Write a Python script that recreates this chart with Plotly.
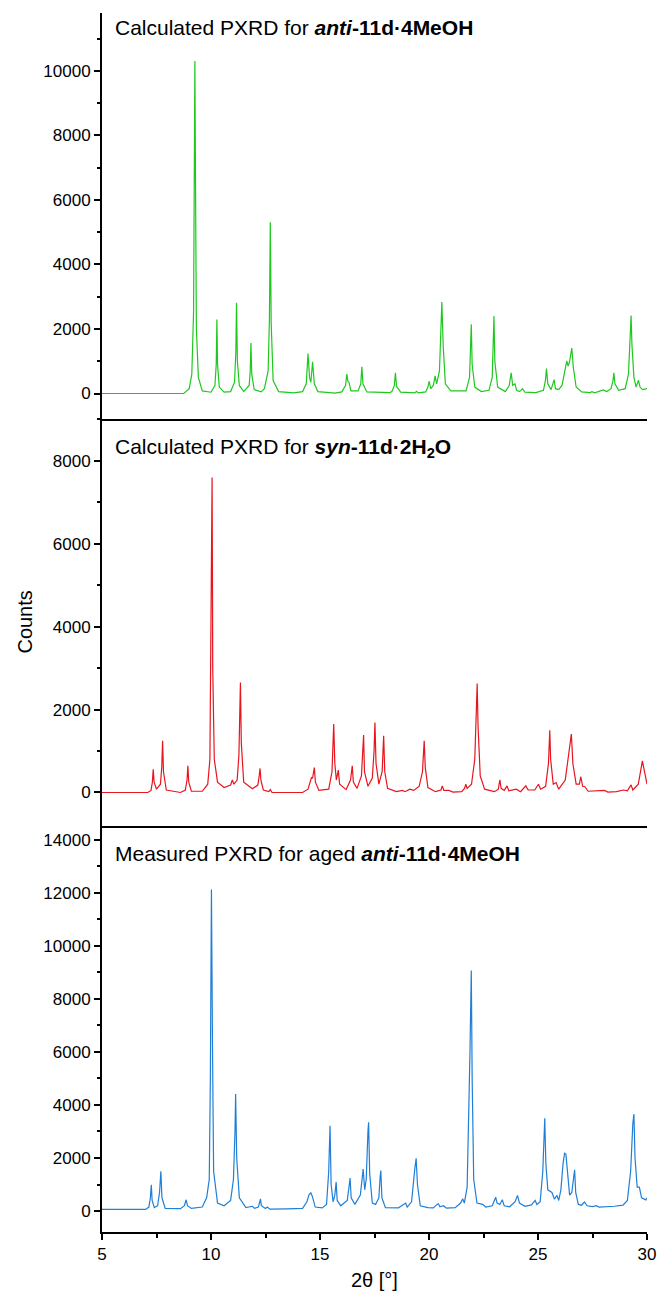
import plotly.graph_objects as go
from plotly.subplots import make_subplots

# ---------------- data ----------------
green_x = [
    5.0, 8.75,
    9.0, 9.12, 9.2, 9.24, 9.26, 9.29, 9.33, 9.42, 9.6,
    10.0, 10.18, 10.24, 10.27, 10.3, 10.38, 10.6,
    10.9, 11.08, 11.14, 11.17, 11.21, 11.3,
    11.5, 11.75, 11.8, 11.83, 11.87, 11.98, 12.3,
    12.45, 12.62, 12.68, 12.72, 12.76, 12.85, 13.1, 13.8,
    14.2, 14.37, 14.45, 14.52, 14.58, 14.66, 14.74, 14.9, 15.7,
    16.0, 16.17, 16.23, 16.28, 16.33, 16.42,
    16.75, 16.87, 16.92, 16.97, 17.15, 18.2,
    18.3, 18.41, 18.46, 18.51, 18.7, 19.35, 19.43, 19.5, 19.85,
    19.95, 20.01, 20.08, 20.2, 20.28, 20.35, 20.48, 20.55, 20.59, 20.65, 20.75, 21.0,
    21.7, 21.86, 21.91, 21.94, 21.98, 22.1, 22.4,
    22.75, 22.9, 22.95, 22.98, 23.02, 23.15, 23.5,
    23.68, 23.77, 23.84, 23.94, 24.02, 24.15, 24.29, 24.4, 24.9,
    25.25, 25.34, 25.39, 25.45, 25.6, 25.74, 25.8, 25.95,
    26.1, 26.25, 26.32, 26.38, 26.45, 26.55, 26.62, 26.75, 27.0,
    27.4, 27.47, 27.6, 27.9, 27.99, 28.15,
    28.35, 28.44, 28.48, 28.53, 28.7, 29.0,
    29.15, 29.23, 29.27, 29.31, 29.4, 29.5,
    29.56, 29.61, 29.68, 29.8, 30.0,
]
green_y = [
    0, 0,
    150, 600, 2500, 7000, 10300, 6500, 2000, 500, 80,
    40, 250, 900, 2290, 900, 200, 40,
    60, 350, 1300, 2815, 1000, 250,
    60, 250, 700, 1567, 600, 120, 50,
    150, 700, 2300, 5310, 2200, 400, 60, 20,
    60, 300, 1237, 500, 350, 980, 300, 60, 10,
    50, 250, 600, 380, 350, 80,
    80, 300, 825, 300, 50, 30,
    60, 250, 640, 220, 40, 20, 70, 20, 50,
    200, 380, 150, 250, 550, 300, 700, 2000, 2835, 1500, 300, 80,
    80, 500, 1500, 2145, 900, 200, 60,
    100, 500, 1700, 2400, 1000, 200, 60,
    250, 640, 250, 300, 100, 60, 150, 40, 30,
    100, 400, 770, 300, 120, 430, 150, 120,
    250, 700, 1010, 850, 1000, 1410, 800, 200, 50,
    30, 60, 20, 80, 110, 60,
    150, 400, 640, 300, 100, 150,
    600, 1800, 2420, 1500, 500, 200,
    300, 410, 200, 120, 150,
]

red_x = [
    5.0, 7.1, 7.25, 7.31, 7.35, 7.39, 7.5,
    7.68, 7.74, 7.78, 7.82, 7.95, 8.6,
    8.82, 8.9, 8.94, 8.98, 9.1, 9.6,
    9.85, 9.95, 10.0, 10.05, 10.08, 10.15, 10.3, 10.6,
    10.9, 10.98, 11.05, 11.2, 11.28, 11.35, 11.39, 11.5, 11.9,
    12.15, 12.21, 12.25, 12.29, 12.4, 12.65, 12.72, 12.8, 14.2,
    14.45, 14.58, 14.61, 14.66, 14.74, 14.79, 14.95,
    15.4, 15.55, 15.63, 15.68, 15.75, 15.84, 15.9, 16.2,
    16.4, 16.48, 16.53, 16.7, 16.9, 16.96, 17.0, 17.04, 17.2,
    17.4, 17.48, 17.52, 17.57, 17.7, 17.85, 17.92, 17.97, 18.1,
    18.5, 18.79, 18.9, 19.12, 19.3, 19.55, 19.7, 19.78, 19.83, 19.95,
    20.3, 20.55, 20.61, 20.68, 20.91, 21.1, 21.5, 21.63, 21.69, 21.75,
    21.95, 22.1, 22.17, 22.21, 22.25, 22.35, 22.55, 22.75, 23.0,
    23.18, 23.25, 23.31, 23.45, 23.58, 23.66, 24.0, 24.2, 24.44, 24.55,
    24.85, 25.02, 25.12, 25.35, 25.48, 25.54, 25.58, 25.7, 25.83, 25.95,
    26.25, 26.4, 26.48, 26.53, 26.6, 26.75, 26.9, 26.96, 27.05, 27.15, 27.3,
    28.05, 28.2, 28.6, 28.92, 29.1, 29.27, 29.35, 29.6, 29.72, 29.79, 29.85, 30.0,
]
red_y = [
    0, 0, 50, 250, 560, 250, 80,
    200, 600, 1245, 500, 60, 0,
    60, 300, 645, 250, 30, 30,
    200, 800, 3500, 7600, 3000, 800, 250, 120,
    180, 305, 200, 300, 900, 2650, 1200, 250, 90,
    180, 400, 580, 300, 60, 20, 70, 0, 0,
    80, 300, 360, 350, 600, 250, 50,
    80, 500, 1650, 700, 300, 540, 200, 70,
    300, 645, 250, 100, 400, 900, 1385, 500, 150,
    350, 1000, 1690, 700, 200, 500, 1370, 500, 100,
    20, 50, 20, 80, 50, 150, 500, 1245, 600, 120,
    20, 60, 160, 50, 50, 10, 20, 100, 200, 100,
    200, 800, 1800, 2630, 1600, 400, 80, 60, 20,
    80, 305, 100, 50, 160, 40, 80, 20, 160, 60,
    60, 200, 80, 150, 700, 1500, 800, 200, 240, 80,
    300, 900, 1300, 1410, 700, 200, 200, 380, 150, 140, 30,
    50, 10, 20, 60, 40, 185, 60, 200, 600, 765, 600, 200,
]

blue_x = [
    5.0, 7.0, 7.15, 7.22, 7.26, 7.3, 7.4,
    7.55, 7.64, 7.7, 7.75, 7.9, 8.6,
    8.78, 8.86, 8.92, 9.1, 9.6,
    9.8, 9.92, 9.97, 10.02, 10.07, 10.12, 10.3, 10.6,
    10.9, 11.03, 11.1, 11.13, 11.18, 11.3, 11.6,
    11.9, 12.0, 12.17, 12.24, 12.27, 12.31, 12.5, 12.58, 12.7, 13.5,
    14.2, 14.4, 14.5, 14.58, 14.65, 14.78, 15.1,
    15.3, 15.4, 15.46, 15.51, 15.6, 15.68, 15.74, 15.79, 15.95,
    16.25, 16.33, 16.38, 16.43, 16.6,
    16.85, 16.94, 16.98, 17.05, 17.12, 17.2, 17.23, 17.28, 17.4,
    17.55, 17.7, 17.76, 17.79, 17.84, 18.0, 18.6,
    18.85, 18.93, 19.0, 19.2, 19.35, 19.41, 19.47, 19.6, 19.95,
    20.2, 20.37, 20.43, 20.5, 20.66, 20.8, 21.2,
    21.45, 21.55, 21.62, 21.75, 21.88, 21.94, 21.98, 22.05, 22.2,
    22.46, 22.6, 22.9, 23.0, 23.06, 23.12, 23.25, 23.36, 23.45, 23.7,
    23.95, 24.06, 24.15, 24.4, 24.7, 24.87, 24.95,
    25.1, 25.22, 25.31, 25.36, 25.45, 25.64, 25.75, 25.87, 25.95,
    26.05, 26.15, 26.22, 26.28, 26.35, 26.45, 26.55, 26.63, 26.68, 26.73, 26.85,
    27.0, 27.13, 27.25, 27.5, 27.67, 27.8, 28.5, 28.9,
    29.1, 29.25, 29.35, 29.4, 29.45, 29.55, 29.65, 29.75, 29.88, 29.95, 30.0,
]
blue_y = [
    60, 60, 150, 500, 990, 400, 130,
    200, 700, 1500, 500, 100, 90,
    200, 425, 200, 100, 150,
    500, 1200, 5000, 12120, 6000, 1500, 300, 200,
    400, 1200, 3000, 4410, 2000, 500, 130,
    180, 100, 150, 350, 460, 200, 100, 150, 70, 80,
    100, 350, 620, 690, 550, 150, 120,
    250, 1500, 3220, 1000, 350, 600, 1090, 400, 200,
    400, 900, 1240, 500, 250,
    600, 1500, 1580, 800, 1200, 3000, 3345, 1400, 300,
    250, 500, 1300, 1530, 500, 130, 120,
    250, 300, 150, 350, 1600, 1990, 1000, 200, 130,
    120, 250, 275, 160, 200, 110, 130,
    300, 460, 300, 900, 6000, 9070, 5000, 1200, 300,
    250, 150, 200, 400, 525, 300, 250, 425, 200, 160,
    350, 590, 300, 180, 230, 400, 250,
    350, 1500, 3500, 1800, 800, 700, 450, 590, 400,
    800, 1800, 2180, 2150, 1500, 600, 700, 1300, 1555, 700, 250,
    220, 340, 200, 170, 200, 150, 180, 220,
    400, 1500, 3300, 3660, 2000, 900, 900, 500, 450, 420, 500,
]

panel_titles = [
    "Calculated PXRD for <b><i>anti</i>-11d·4MeOH</b>",
    "Calculated PXRD for <b><i>syn</i>-11d·2H<sub>2</sub>O</b>",
    "Measured PXRD for aged <b><i>anti</i>-11d·4MeOH</b>",
]
y_ranges = [[-800, 11790], [-800, 9000], [-790, 14530]]
x_ticks = [5, 10, 15, 20, 25, 30]

# ---------------- figure ----------------
FONT = "Liberation Sans, Arial, sans-serif"
colors = ["#1ec81e", "#e8141e", "#1f7fd6"]
series = [(green_x, green_y), (red_x, red_y), (blue_x, blue_y)]
title_y = [0.9655, 0.9286, 0.931]

fig = make_subplots(rows=3, cols=1, shared_xaxes=True, vertical_spacing=0)

for i, ((xs, ys), c) in enumerate(zip(series, colors), start=1):
    fig.add_trace(
        go.Scatter(x=xs, y=ys, mode="lines", line=dict(color=c, width=1.2),
                   showlegend=False, hoverinfo="skip"),
        row=i, col=1,
    )
    fig.update_yaxes(
        range=y_ranges[i - 1], dtick=2000, tick0=0, tickformat="d",
        showline=True, linecolor="black", linewidth=2,
        ticks="outside", ticklen=6, tickwidth=1.5, tickcolor="black",
        minor=dict(ticks="outside", dtick=1000, ticklen=3, tickwidth=1.5, tickcolor="black"),
        showgrid=False, zeroline=False,
        tickfont=dict(family=FONT, size=17, color="black"),
        row=i, col=1,
    )
    fig.update_xaxes(
        range=[5, 30], showline=True, linecolor="black", linewidth=2,
        showgrid=False, zeroline=False, row=i, col=1,
    )
    fig.add_annotation(
        text=panel_titles[i - 1], xref="x domain", yref="y domain",
        x=0.02, y=title_y[i - 1], xanchor="left", yanchor="middle",
        showarrow=False, font=dict(family=FONT, size=21, color="black"),
        row=i, col=1,
    )

fig.update_xaxes(showticklabels=False, ticks="", row=1, col=1)
fig.update_xaxes(showticklabels=False, ticks="", row=2, col=1)
fig.update_xaxes(
    tickvals=x_ticks, ticks="outside", ticklen=6, tickwidth=1.5, tickcolor="black",
    minor=dict(ticks="outside", dtick=2.5, tick0=5, ticklen=4, tickwidth=1.5, tickcolor="black"),
    showticklabels=True, tickfont=dict(family=FONT, size=17, color="black"),
    row=3, col=1,
)

fig.add_annotation(
    text="Counts", xref="paper", yref="paper", x=-0.143, y=0.5,
    xanchor="center", yanchor="middle", textangle=-90, showarrow=False,
    font=dict(family=FONT, size=20, color="black"),
)
fig.add_annotation(
    text="2θ [°]", xref="paper", yref="paper", x=0.5, y=0,
    xanchor="center", yanchor="top", yshift=-35, showarrow=False,
    font=dict(family=FONT, size=20, color="black"),
)

fig.update_layout(
    width=668, height=1295,
    margin=dict(l=102, r=13, t=13, b=63),
    paper_bgcolor="white", plot_bgcolor="white",
    font=dict(family=FONT, color="black"),
)

fig.write_html(
    "out.html",
    config={"displayModeBar": False},
    post_script="document.body.style.margin='0px';document.body.style.overflow='hidden';",
)
